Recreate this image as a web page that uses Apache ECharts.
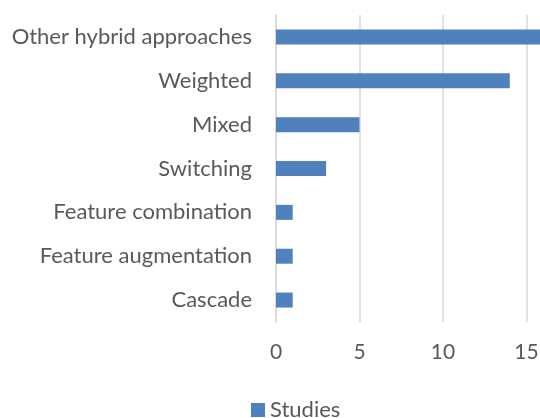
<!DOCTYPE html>
<html>
<head>
<meta charset="utf-8">
<script src="https://cdn.jsdelivr.net/npm/echarts@6/dist/echarts.min.js"></script>
<style>
  html, body { margin: 0; padding: 0; background: #fff; }
  #chart { width: 540px; height: 418px; }
</style>
</head>
<body>
<div id="chart"></div>
<script>
// categories top to bottom
const categories = [
  'Other hybrid approaches',
  'Weighted',
  'Mixed',
  'Switching',
  'Feature combination',
  'Feature augmentation',
  'Cascade'
]
// number of studies per approach
const studies = [16, 14, 5, 3, 1, 1, 1]
const seriesName = 'Studies'

const font = 'Lato, "Open Sans", sans-serif'
const chart = echarts.init(document.getElementById('chart'))

chart.setOption({
  animation: false,
  textStyle: { fontFamily: font },
  legend: {
    data: [seriesName],
    left: 246,
    top: 394,
    itemWidth: 14,
    itemHeight: 14,
    itemGap: 4,
    icon: 'rect',
    textStyle: { color: '#595959', fontSize: 22, fontFamily: font }
  },
  grid: {
    left: 276,
    top: 15,
    width: 334,
    bottom: 96,
    containLabel: false,
    outerBoundsMode: 'none'
  },
  xAxis: {
    type: 'value',
    min: 0,
    max: 20,
    interval: 5,
    axisLine: { show: false },
    axisTick: { show: false },
    axisLabel: { color: '#595959', fontSize: 21, margin: 20, fontFamily: font },
    splitLine: { lineStyle: { color: '#d9d9d9', width: 1.5 } }
  },
  yAxis: {
    type: 'category',
    inverse: true,
    data: categories,
    axisLine: { show: true, lineStyle: { color: '#d9d9d9', width: 1.5 } },
    axisTick: { show: false },
    axisLabel: { color: '#595959', fontSize: 22, margin: 24, fontFamily: font }
  },
  series: [{
    name: seriesName,
    type: 'bar',
    data: studies,
    barWidth: 15,
    itemStyle: { color: '#4f81bd' }
  }]
})
</script>
</body>
</html>
